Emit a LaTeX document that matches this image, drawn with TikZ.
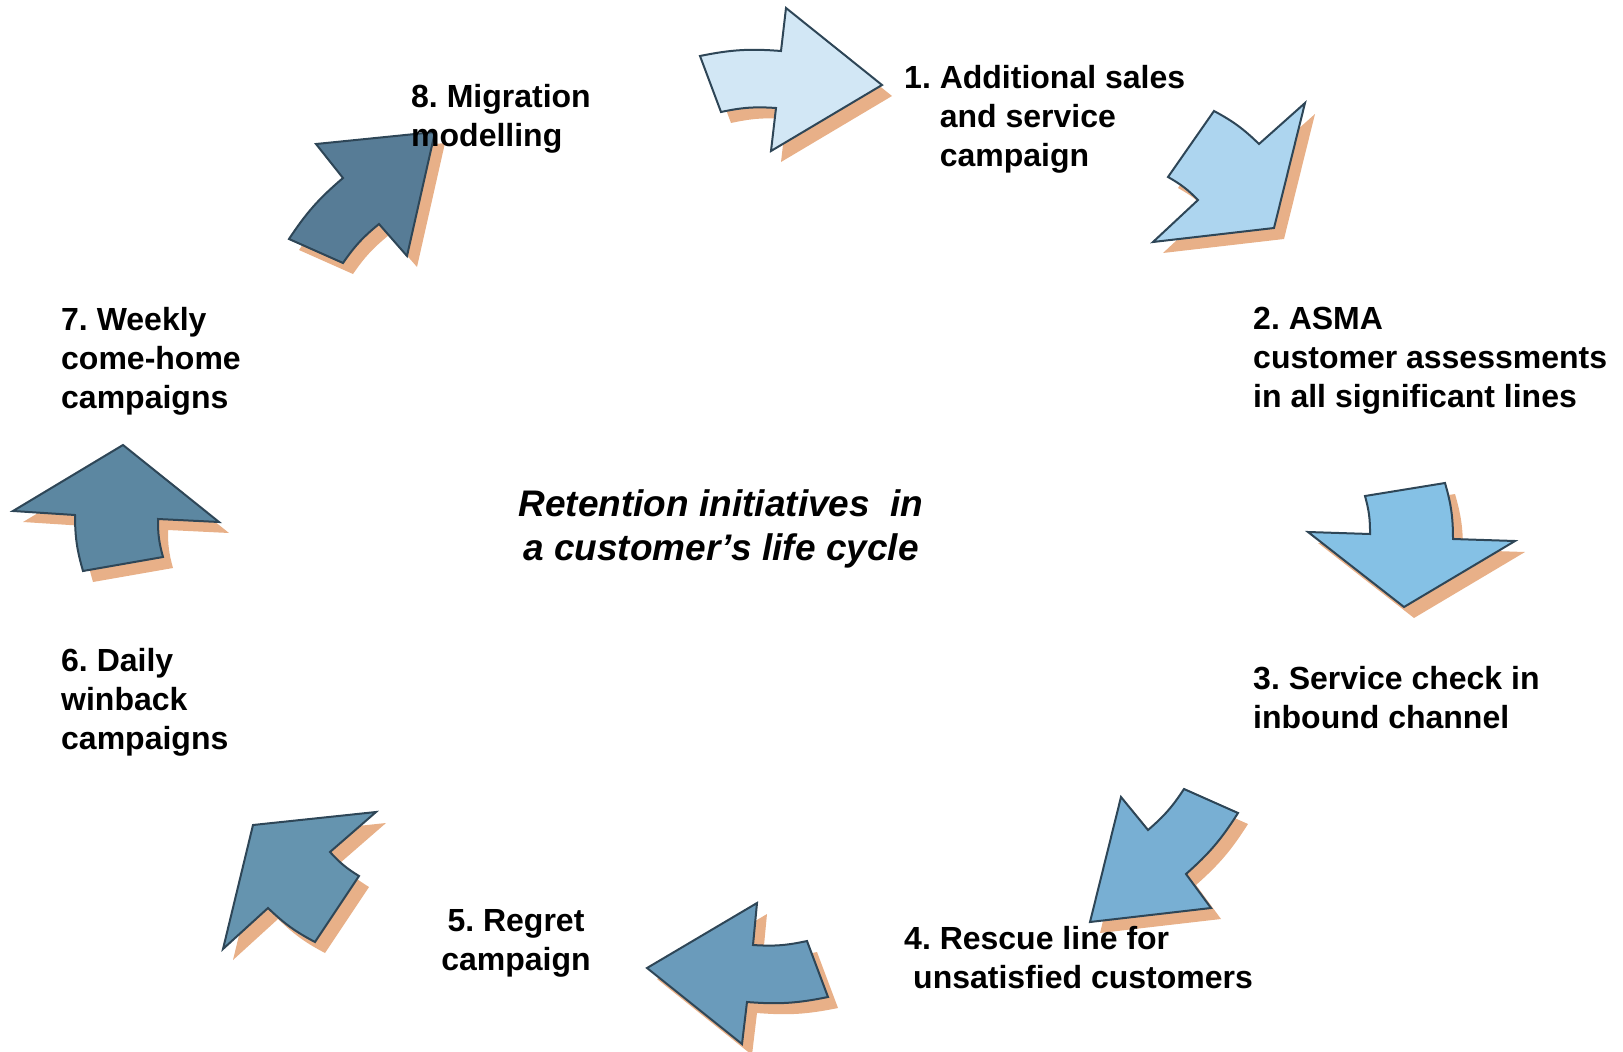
\documentclass[tikz,border=0pt]{standalone}
\usepackage{fontspec}
\setmainfont{Liberation Sans}
\usetikzlibrary{calc}
\frenchspacing

\definecolor{rimline}{HTML}{2E4657}
\definecolor{dropshade}{HTML}{E8B088}
\definecolor{stepa}{HTML}{D2E7F5}
\definecolor{stepb}{HTML}{ADD5EF}
\definecolor{stepc}{HTML}{85C1E5}
\definecolor{stepd}{HTML}{78AFD3}
\definecolor{stepe}{HTML}{6A9BBB}
\definecolor{stepf}{HTML}{6594AF}
\definecolor{stepg}{HTML}{5C87A1}
\definecolor{steph}{HTML}{577C96}

\tikzset{
	cyclearrow/.style={draw=rimline,line width=2pt,line join=miter},
	dropshadow/.style={fill=dropshade,shift={(10,11)}},
	steplabel/.style={anchor=west,align=left,inner sep=0pt,font=\fontsize{32}{39}\selectfont\bfseries}
}

\begin{document}
\begin{tikzpicture}[x=1pt,y=-1pt]
		\useasboundingbox (0,0) rectangle (1623,1052);
		% Set up the outlines of the arrows
		\newcommand{\arrowone}{(700,56) to[bend left=8] (781,51) -- (786,8) -- (882,85) -- (771,151) -- (776,108) to[bend right=8] (721,112) -- cycle}
		\newcommand{\arrowtwo}{(1214,111) to[bend left=8] (1259,144) -- (1305,103) -- (1274,228) -- (1153,242) -- (1198,200) to[bend right=8] (1168,177) -- cycle}
		\newcommand{\arrowthree}{(1445,483) to[bend left=8] (1453,539) -- (1515,541) -- (1404,607) -- (1308,532) -- (1370,534) to[bend right=8] (1365,496) -- cycle}
		\newcommand{\arrowfour}{(1238,813) to[bend left=8] (1186,874) -- (1211,908) -- (1090,922) -- (1121,797) -- (1148,830) to[bend right=8] (1184,789) -- cycle}
		\newcommand{\arrowfive}{(828,997) to[bend left=8] (747,1002) -- (742,1044) -- (647,968) -- (757,903) -- (753,945) to[bend right=8] (807,941) -- cycle}
		\newcommand{\arrowsix}{(315,942) to[bend left=8] (268,908) -- (223,949) -- (253,825) -- (376,812) -- (330,852) to[bend right=8] (359,876) -- cycle}
		\newcommand{\arrowseven}{(83,571) to[bend left=8] (75,515) -- (13,511) -- (123,445) -- (219,522) -- (158,519) to[bend right=8] (163,557) -- cycle}
		\newcommand{\arroweight}{(289,239) to[bend left=8] (343,178) -- (316,144) -- (435,132) -- (407,256) -- (379,224) to[bend right=8] (343,263) -- cycle}

		% shadows first, then the arrows
		\fill[dropshadow] \arrowone;
		\fill[dropshadow] \arrowtwo;
		\fill[dropshadow] \arrowthree;
		\fill[dropshadow] \arrowfour;
		\fill[dropshadow] \arrowfive;
		\fill[dropshadow] \arrowsix;
		\fill[dropshadow] \arrowseven;
		\fill[dropshadow] \arroweight;
		\draw[cyclearrow,fill=stepa] \arrowone;
		\draw[cyclearrow,fill=stepb] \arrowtwo;
		\draw[cyclearrow,fill=stepc] \arrowthree;
		\draw[cyclearrow,fill=stepd] \arrowfour;
		\draw[cyclearrow,fill=stepe] \arrowfive;
		\draw[cyclearrow,fill=stepf] \arrowsix;
		\draw[cyclearrow,fill=stepg] \arrowseven;
		\draw[cyclearrow,fill=steph] \arroweight;

		\node[steplabel] (lbl1) at (904,119) {1. Additional sales\\\hphantom{1. }and service\\\hphantom{1. }campaign};
		\node[steplabel] (lbl2) at (1253,361) {2. ASMA\\customer assessments\\in all significant lines};
		\node[steplabel] (lbl3) at (1253,698) {3. Service check in\\inbound channel};
		\node[steplabel] (lbl4) at (904,958) {4. Rescue line for\\\hspace*{9pt}unsatisfied customers};
		\node[steplabel,anchor=center,align=center] (lbl5) at (516,943) {5. Regret\\campaign};
		\node[steplabel] (lbl6) at (61,702) {6. Daily\\winback\\campaigns};
		\node[steplabel] (lbl7) at (61,361) {7. Weekly\\come-home\\campaigns};
		\node[steplabel] (lbl8) at (411,119) {8. Migration\\modelling};
		\node[align=center,inner sep=0pt,font=\fontsize{37}{43.5}\selectfont\bfseries\itshape] (hub) at (721,529) {Retention initiatives\ \ in\\a customer’s life cycle};
	\end{tikzpicture}
\end{document}
